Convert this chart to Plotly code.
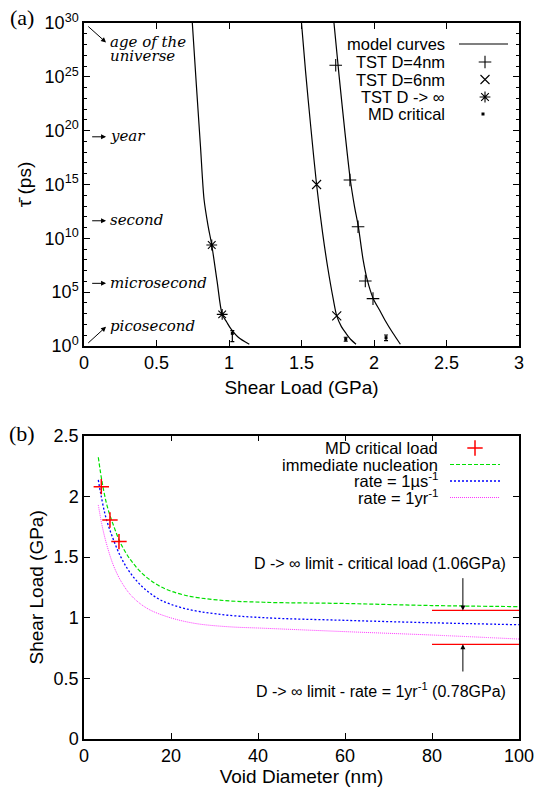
import plotly.graph_objects as go

# ---------------- Panel (a) data ----------------
shear_dinf = [0.747, 0.775, 0.803, 0.828, 0.855, 0.881, 0.918, 0.953, 0.985, 1.011, 1.064, 1.140]
tau_dinf = [1e30, 1.6e24, 4e18, 4e13, 1.6e11, 2.4e9, 1e6, 870, 160, 44, 6.5, 1.45]

shear_d6 = [1.500, 1.528, 1.565, 1.604, 1.646, 1.680, 1.720, 1.743, 1.775, 1.807, 1.840, 1.876]
tau_d6 = [1e30, 3.2e25, 1.6e20, 1e15, 2.9e10, 2.3e7, 1.9e4, 620, 63, 15, 4, 1.45]

shear_d4 = [1.724, 1.760, 1.800, 1.837, 1.865, 1.892, 1.925, 1.954, 1.995, 2.040, 2.076, 2.130, 2.182]
tau_d4 = [1e30, 1e25, 6.3e19, 2.5e15, 1e13, 1.2e11, 1e8, 1.3e6, 2.5e4, 2000, 250, 16, 1.45]

tst_d4_x = [1.736, 1.834, 1.890, 1.940, 1.993]
tst_d4_tau = [1.2e26, 2.6e15, 1.2e11, 1.1e6, 2.5e4]
tst_d6_x = [1.604, 1.743]
tst_d6_tau = [1e15, 630]
tst_dinf_x = [0.881, 0.953]
tst_dinf_tau = [2.4e9, 870]

md_x = [1.023, 1.805, 2.083]
md_tau = [15, 4.2, 5.9]
md_err_plus = [11.3, 2.3, 4.6]
md_err_minus = [12.5, 1.45, 2.8]

y_tick_exp = [0, 5, 10, 15, 20, 25, 30]
x_ticks_a = [0, 0.5, 1, 1.5, 2, 2.5, 3]

# time-scale annotations (log10 of time in ps)
time_labels = ["year", "second", "microsecond"]
time_log = [19.43, 11.63, 5.82]

# ---------------- Panel (b) data ----------------
diam_imm = [3.29, 4.21, 5.36, 6.89, 8.42, 10.71, 13.78, 17.6, 22.96, 30.6, 41.3, 60, 80, 100]
load_imm = [2.322, 2.108, 1.915, 1.750, 1.613, 1.476, 1.352, 1.256, 1.187, 1.146, 1.127, 1.117, 1.100, 1.091]

diam_us = [3.29, 3.83, 4.98, 6.5, 8.42, 10.7, 13.8, 17.6, 23.0, 30.6, 41.3, 60, 80, 100]
load_us = [2.135, 2.025, 1.833, 1.668, 1.503, 1.366, 1.242, 1.146, 1.077, 1.030, 1.000, 0.978, 0.958, 0.942]

diam_yr = [3.29, 4.21, 5.36, 6.89, 8.8, 11.1, 14.5, 19.1, 25.3, 32.9, 41.3, 60, 80, 100]
load_yr = [1.929, 1.750, 1.585, 1.420, 1.283, 1.173, 1.077, 1.008, 0.954, 0.926, 0.913, 0.885, 0.857, 0.824]

md_diam = [3.98, 5.97, 8.04]
md_load = [2.08, 1.805, 1.627]

limit_diam = [80, 100]
limit_crit = 1.06
limit_yr = 0.78

SANS = "Liberation Sans, Arial, sans-serif"
SERIF = "DejaVu Serif, serif"
TICKF = dict(family=SANS, size=18, color="black")
TITF = dict(family=SANS, size=19, color="black")
LEGF = dict(family=SANS, size=16.5, color="black")
TXT = dict(family=SANS, size=16, color="black")

fig = go.Figure()

# ----- panel (a) traces -----
for xs, ys in [(shear_dinf, tau_dinf), (shear_d6, tau_d6), (shear_d4, tau_d4)]:
    fig.add_trace(go.Scatter(x=xs, y=ys, mode="lines", xaxis="x", yaxis="y",
                             line=dict(color="black", width=1.2, shape="spline", smoothing=0.8),
                             showlegend=False, hoverinfo="skip"))
fig.add_trace(go.Scatter(x=tst_d4_x, y=tst_d4_tau, mode="markers", xaxis="x", yaxis="y",
                         marker=dict(symbol="cross-thin", size=9, line=dict(color="black", width=1.1)),
                         showlegend=False))
fig.add_trace(go.Scatter(x=tst_d6_x, y=tst_d6_tau, mode="markers", xaxis="x", yaxis="y",
                         marker=dict(symbol="x-thin", size=9, line=dict(color="black", width=1.1)),
                         showlegend=False))
fig.add_trace(go.Scatter(x=tst_dinf_x, y=tst_dinf_tau, mode="markers", xaxis="x", yaxis="y",
                         marker=dict(symbol="asterisk", size=9, line=dict(color="black", width=1.1)),
                         showlegend=False))
fig.add_trace(go.Scatter(x=md_x, y=md_tau, mode="markers", xaxis="x", yaxis="y",
                         marker=dict(symbol="square", size=3, color="black"),
                         error_y=dict(type="data", symmetric=False, array=md_err_plus,
                                      arrayminus=md_err_minus, color="black", thickness=1.2, width=2),
                         showlegend=False))

# ----- panel (b) traces -----
fig.add_trace(go.Scatter(x=diam_imm, y=load_imm, mode="lines", xaxis="x2", yaxis="y2",
                         line=dict(color="#00e000", width=1.2, dash="4px,2px", shape="spline"),
                         showlegend=False))
fig.add_trace(go.Scatter(x=diam_us, y=load_us, mode="lines", xaxis="x2", yaxis="y2",
                         line=dict(color="#0000ff", width=1.3, dash="2px,2px", shape="spline"),
                         showlegend=False))
fig.add_trace(go.Scatter(x=diam_yr, y=load_yr, mode="lines", xaxis="x2", yaxis="y2",
                         line=dict(color="#ff33ff", width=1.0, dash="1px,1px", shape="spline"),
                         showlegend=False))
fig.add_trace(go.Scatter(x=md_diam, y=md_load, mode="markers", xaxis="x2", yaxis="y2",
                         marker=dict(symbol="cross-thin", size=11, line=dict(color="#ff0000", width=1.5)),
                         showlegend=False))
for lv in [limit_crit, limit_yr]:
    fig.add_trace(go.Scatter(x=limit_diam, y=[lv, lv], mode="lines", xaxis="x2", yaxis="y2",
                             line=dict(color="#ff0000", width=1.3), showlegend=False))

# ----- legend keys on a full-figure pixel overlay -----
fig.add_trace(go.Scatter(x=[459, 508], y=[44, 44], mode="lines", xaxis="x3", yaxis="y3",
                         line=dict(color="black", width=1.2), showlegend=False))
fig.add_trace(go.Scatter(x=[485], y=[62], mode="markers", xaxis="x3", yaxis="y3",
                         marker=dict(symbol="cross-thin", size=9, line=dict(color="black", width=1.1)),
                         showlegend=False))
fig.add_trace(go.Scatter(x=[485], y=[79.5], mode="markers", xaxis="x3", yaxis="y3",
                         marker=dict(symbol="x-thin", size=9, line=dict(color="black", width=1.1)),
                         showlegend=False))
fig.add_trace(go.Scatter(x=[485], y=[97], mode="markers", xaxis="x3", yaxis="y3",
                         marker=dict(symbol="asterisk", size=9, line=dict(color="black", width=1.1)),
                         showlegend=False))
fig.add_trace(go.Scatter(x=[483], y=[114], mode="markers", xaxis="x3", yaxis="y3",
                         marker=dict(symbol="square", size=3, color="black"), showlegend=False))

fig.add_trace(go.Scatter(x=[475], y=[448], mode="markers", xaxis="x3", yaxis="y3",
                         marker=dict(symbol="cross-thin", size=11, line=dict(color="#ff0000", width=1.5)),
                         showlegend=False))
fig.add_trace(go.Scatter(x=[450, 500], y=[464.5, 464.5], mode="lines", xaxis="x3", yaxis="y3",
                         line=dict(color="#00e000", width=1.2, dash="4px,2px"), showlegend=False))
fig.add_trace(go.Scatter(x=[450, 500], y=[481, 481], mode="lines", xaxis="x3", yaxis="y3",
                         line=dict(color="#0000ff", width=1.3, dash="2px,2px"), showlegend=False))
fig.add_trace(go.Scatter(x=[450, 500], y=[497.5, 497.5], mode="lines", xaxis="x3", yaxis="y3",
                         line=dict(color="#ff33ff", width=1.0, dash="1px,1px"), showlegend=False))

ann = []
# legend texts panel (a)
for txt, yy in [("model curves", 44), ("TST D=4nm", 62), ("TST D=6nm", 79.5),
                ("TST D -> ∞", 97), ("MD critical", 114)]:
    ann.append(dict(x=447, y=yy, xref="x3", yref="y3", text=txt, showarrow=False,
                    xanchor="right", yanchor="middle", font=LEGF))
# legend texts panel (b)
for txt, yy in [("MD critical load", 448), ("immediate nucleation", 464.5),
                ("rate = 1µs<sup>-1</sup>", 480), ("rate = 1yr<sup>-1</sup>", 496.5)]:
    ann.append(dict(x=440, y=yy, xref="x3", yref="y3", text=txt, showarrow=False,
                    xanchor="right", yanchor="middle", font=LEGF))

# panel labels
ann.append(dict(x=22, y=17, xref="x3", yref="y3", text="(a)", showarrow=False,
                font=dict(family="Liberation Serif, serif", size=22, color="black")))
ann.append(dict(x=22, y=433, xref="x3", yref="y3", text="(b)", showarrow=False,
                font=dict(family="Liberation Serif, serif", size=22, color="black")))

# time-scale labels panel (a)
ITF = dict(family=SERIF, size=15, color="black")
ann.append(dict(x=108, y=42, xref="x3", yref="y3", text="<i>age of the</i>", showarrow=False,
                xanchor="left", yanchor="middle", font=ITF))
ann.append(dict(x=108, y=56, xref="x3", yref="y3", text="<i>universe</i>", showarrow=False,
                xanchor="left", yanchor="middle", font=ITF))
for lab, py in [("year", 136), ("second", 220), ("microsecond", 282.5), ("picosecond", 325.5)]:
    ann.append(dict(x=108, y=py, xref="x3", yref="y3", text="<i>%s</i>" % lab, showarrow=False,
                    xanchor="left", yanchor="middle", font=ITF))

ARW = dict(showarrow=True, arrowhead=2, arrowsize=1, arrowwidth=1, arrowcolor="black", text="")
ann.append(dict(x=0.152, y=28.2, ax=0.019, ay=29.8, xref="x", yref="y", axref="x", ayref="y", **ARW))
for lv in time_log:
    ann.append(dict(x=0.152, y=lv, ax=0.046, ay=lv, xref="x", yref="y", axref="x", ayref="y", **ARW))
ann.append(dict(x=0.152, y=1.79, ax=0.019, ay=0.16, xref="x", yref="y", axref="x", ayref="y", **ARW))

# panel (b) limit annotations
ann.append(dict(x=508, y=563.5, xref="x3", yref="y3", text="D -> ∞ limit - critical load (1.06GPa)",
                showarrow=False, xanchor="right", yanchor="middle", font=TXT))
ann.append(dict(x=507.5, y=690, xref="x3", yref="y3",
                text="D -> ∞ limit - rate = 1yr<sup>-1</sup> (0.78GPa)",
                showarrow=False, xanchor="right", yanchor="middle", font=TXT))
ann.append(dict(x=87.1, y=limit_crit, ax=87.1, ay=1.338, xref="x2", yref="y2", axref="x2", ayref="y2", **ARW))
ann.append(dict(x=87.1, y=limit_yr, ax=87.1, ay=0.544, xref="x2", yref="y2", axref="x2", ayref="y2", **ARW))

XD = [84 / 535, 519 / 535]
AX = dict(showline=True, linecolor="black", linewidth=1.5, mirror="ticks", ticks="inside",
          ticklen=6, tickwidth=1, tickcolor="black", showgrid=False, zeroline=False,
          tickfont=TICKF, title_font=TITF, automargin=False)

fig.update_layout(
    width=535, height=787,
    margin=dict(l=0, r=0, t=0, b=0),
    paper_bgcolor="white", plot_bgcolor="rgba(0,0,0,0)",
    showlegend=False,
    xaxis=dict(domain=XD, anchor="y", range=[0, 3], tickvals=x_ticks_a,
               title=dict(text="Shear Load (GPa)", standoff=8), **AX),
    yaxis=dict(domain=[1 - 346 / 787, 1 - 23 / 787], anchor="x", type="log", range=[0, 30],
               tickvals=[10.0 ** e for e in y_tick_exp],
               ticktext=["10<sup>%d</sup>" % e for e in y_tick_exp],
               minor=dict(tickvals=[10.0 ** e for e in range(31)], ticks="inside", ticklen=3,
                          tickcolor="black", tickwidth=1),
               title=dict(text="τ̄ (ps)", standoff=8), **AX),
    xaxis2=dict(domain=XD, anchor="y2", range=[0, 100], dtick=20, tick0=0,
                title=dict(text="Void Diameter (nm)", standoff=4), **AX),
    yaxis2=dict(domain=[1 - 739 / 787, 1 - 435.7 / 787], anchor="x2", range=[0, 2.5], dtick=0.5,
                tick0=0, title=dict(text="Shear Load (GPa)", standoff=5), **AX),
    xaxis3=dict(domain=[0, 1], anchor="y3", range=[0, 535], visible=False, fixedrange=True),
    yaxis3=dict(domain=[0, 1], anchor="x3", range=[787, 0], visible=False, fixedrange=True),
    annotations=ann,
)

fig.write_html("out.html", config={"displayModeBar": False},
               post_script="document.body.style.margin='0';document.body.style.overflow='hidden';")
